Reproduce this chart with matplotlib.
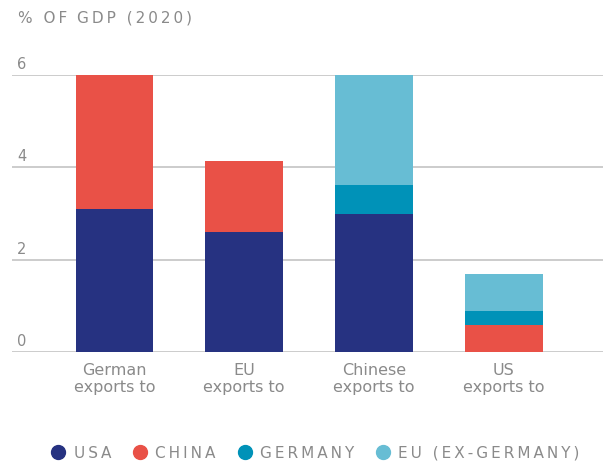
import matplotlib
matplotlib.use("Agg")
import matplotlib.pyplot as plt
from matplotlib.lines import Line2D
from matplotlib import transforms
import numpy as np

# share of GDP (2020), stacked by destination
exporters = ["German\nexports to", "EU\nexports to", "Chinese\nexports to", "US\nexports to"]
to_usa = [3.10, 2.60, 3.00, 0.0]
to_china = [2.90, 1.53, 0.0, 0.58]
to_germany = [0.0, 0.0, 0.62, 0.30]
to_eu = [0.0, 0.0, 2.38, 0.81]

series = [
    ("USA", to_usa, "#263281"),
    ("CHINA", to_china, "#E95147"),
    ("GERMANY", to_germany, "#0092B8"),
    ("EU (EX-GERMANY)", to_eu, "#67BDD4"),
]
yticks = [0, 2, 4, 6]

GREY = "#8a8a8a"
GRID = "#c8c8c8"


def spaced(s, gap="\u2009"):
    return gap.join(s)


plt.rcParams["font.family"] = ["DejaVu Sans"]

fig = plt.figure(figsize=(6.06, 4.63), dpi=100)
ax = fig.add_axes([12 / 606, 111 / 463, 591 / 606, 277 / 463])

x = np.arange(len(exporters))
bottom = np.zeros(len(exporters))
for name, vals, color in series:
    vals = np.array(vals)
    ax.bar(x, vals, width=0.6, bottom=bottom, color=color, zorder=3)
    bottom += vals

ax.set_xlim(-0.79, 3.765)
ax.set_ylim(0, 6)

for v in yticks:
    ax.axhline(v, color=GRID, lw=1.3, zorder=1)

# y labels sit just above their gridlines
off = transforms.ScaledTranslation(5 / 100, 3 / 100, fig.dpi_scale_trans)
for v in yticks:
    ax.text(0, v, str(v), transform=ax.get_yaxis_transform() + off,
            ha="left", va="bottom", color=GREY, fontsize=10.5)

ax.set_yticks([])
ax.set_xticks(x)
ax.set_xticklabels(exporters, color=GREY, fontsize=11.5, linespacing=1.15)
ax.tick_params(axis="x", length=0, pad=8)
for s in ax.spines.values():
    s.set_visible(False)

fig.text(18 / 606, 1 - 18 / 463, spaced("% OF") + "  " + spaced("GDP (2020)"),
         color=GREY, fontsize=11, va="center", ha="left")

handles = [Line2D([], [], ls="none", marker="o", markersize=10,
                  markerfacecolor=c, markeredgecolor=c) for _, _, c in series]
labels = [spaced(n) for n, _, _ in series]
leg = fig.legend(handles, labels, loc="center", bbox_to_anchor=(316 / 606, 10 / 463),
                 ncol=4, frameon=False, handlelength=0.8, handletextpad=0.6,
                 columnspacing=1.5, fontsize=11)
for t in leg.get_texts():
    t.set_color(GREY)

fig.savefig("out.png", dpi=100)
